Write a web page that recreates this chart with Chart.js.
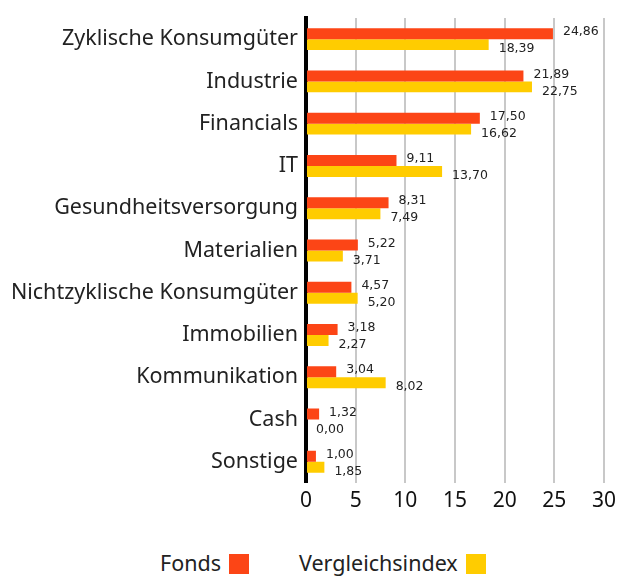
<!DOCTYPE html>
<html>
<head>
<meta charset="utf-8">
<script src="https://cdn.jsdelivr.net/npm/chart.js@4.4.0/dist/chart.umd.min.js"></script>
<style>
body{margin:0;background:#fff;font-family:"Noto Sans",sans-serif;}
#wrap{width:617px;height:530px;position:relative;}
#legend{position:absolute;top:549px;left:0;width:617px;font-size:21.5px;color:#222;}
.item{position:absolute;top:0;line-height:28px;}
.sw{display:inline-block;width:20px;height:20px;vertical-align:-3px;margin-left:8px;}
</style>
</head>
<body>
<div id="wrap"><canvas id="mycanvas" width="617" height="530"></canvas></div>
<div id="legend">
  <div class="item" style="left:160px">Fonds<span class="sw" style="background:#fc4516"></span></div>
  <div class="item" style="left:299px">Vergleichsindex<span class="sw" style="background:#ffcc00"></span></div>
</div>
<script>
var sectors=["Zyklische Konsumgüter","Industrie","Financials","IT","Gesundheitsversorgung","Materialien","Nichtzyklische Konsumgüter","Immobilien","Kommunikation","Cash","Sonstige"];
var fonds=[24.86,21.89,17.50,9.11,8.31,5.22,4.57,3.18,3.04,1.32,1.00];
var index=[18.39,22.75,16.62,13.70,7.49,3.71,5.20,2.27,8.02,0.00,1.85];
var xTicks=[0,5,10,15,20,25,30];

var labelPlugin={
	id:'barlabels',
	afterDatasetsDraw:function(chart){
		var ctx=chart.ctx;
		ctx.save();
		ctx.font='12.5px "DejaVu Sans"';
		ctx.fillStyle='#222';
		ctx.textBaseline='middle';
		chart.data.datasets.forEach(function(ds,di){
			var meta=chart.getDatasetMeta(di);
			meta.data.forEach(function(bar,i){
				var txt=ds.data[i].toFixed(2).replace('.',',');
				ctx.fillText(txt,bar.x+10,bar.y+(di==1?4.5:-1.5));
			});
		});
		ctx.restore();
	}
};

var ctx=document.getElementById("mycanvas");
var barGraph=new Chart(ctx,{
	type:'bar',
	data:{
		labels:sectors,
		datasets:[
			{label:'Fonds',data:fonds,backgroundColor:'#fc4516',categoryPercentage:0.52,barPercentage:1},
			{label:'Vergleichsindex',data:index,backgroundColor:'#ffcc00',categoryPercentage:0.52,barPercentage:1}
		]
	},
	options:{
		indexAxis:'y',
		responsive:false,
		animation:false,
		layout:{padding:{top:18,right:0,left:0,bottom:10}},
		plugins:{legend:{display:false},tooltip:{enabled:false}},
		scales:{
			x:{
				min:0,max:30,
				afterBuildTicks:function(s){s.ticks=xTicks.map(function(v){return {value:v};});},
				afterFit:function(s){s.paddingRight=13;},
				grid:{color:'#c8c8c8',lineWidth:2,drawTicks:false},
				border:{display:false},
				ticks:{font:{size:21,family:'Noto Sans'},color:'#111',padding:6}
			},
			y:{
				grid:{display:false},
				border:{color:'#000',width:4},
				ticks:{font:{size:21.5,family:'Noto Sans'},color:'#222',padding:0},
				afterFit:function(s){s.width=306;}
			}
		}
	},
	plugins:[labelPlugin]
});
</script>
</body>
</html>
